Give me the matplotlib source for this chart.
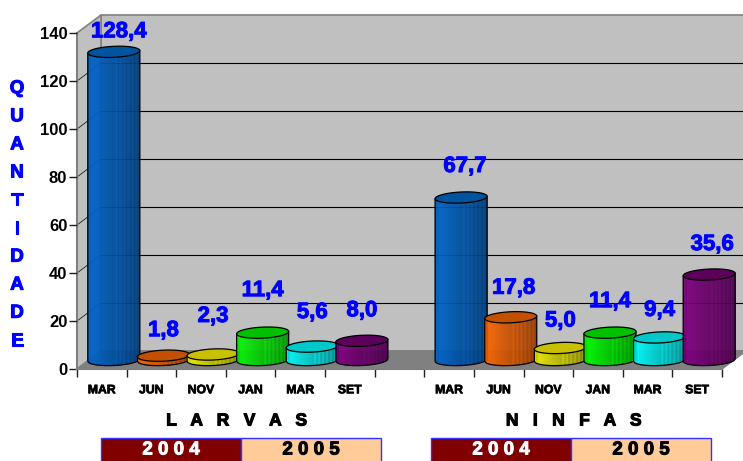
import numpy as np
from matplotlib import pyplot as plt
from matplotlib import patheffects as pe
from matplotlib.patches import Polygon, Rectangle

plt.rcParams['font.family'] = ['Liberation Sans', 'DejaVu Sans']
plt.rcParams['font.weight'] = 'bold'

# dados
categorias = ['MAR', 'JUN', 'NOV', 'JAN', 'MAR', 'SET', '', 'MAR', 'JUN', 'NOV', 'JAN', 'MAR', 'SET']
larvas = [128.4, 1.8, 2.3, 11.4, 5.6, 8.0]
ninfas = [67.7, 17.8, 5.0, 11.4, 9.4, 35.6]
rotulos_larvas = ['128,4', '1,8', '2,3', '11,4', '5,6', '8,0']
rotulos_ninfas = ['67,7', '17,8', '5,0', '11,4', '9,4', '35,6']
y_ticks = [0, 20, 40, 60, 80, 100, 120, 140]

# deslocamento dos rotulos em pixels (dx, dy) a partir do topo da barra
desloc_larvas = [(5, 20), (0, 25), (0, 38), (0, 42), (0, 34), (0, 30)]
desloc_ninfas = [(4, 31), (3, 29), (0, 27), (0, 31), (0, 27), (3, 30)]

cores = [(0, 102, 204), (255, 102, 0), (240, 240, 0), (0, 255, 0), (0, 255, 255), (128, 0, 128)]
cores_topo = ['#00539F', '#C25000', '#C8C000', '#00C000', '#00C8C8', '#5C005C']


def negrito(cor, w=0.5):
    # engrossa o texto para lembrar o Arial Black
    return [pe.withStroke(linewidth=w, foreground=cor)]


W, H = 743, 461
fig = plt.figure(figsize=(W / 100, H / 100), dpi=100)
ax = fig.add_axes([77 / W, (H - 369) / H, 645 / W, 336 / H])
ax.set_xlim(0, 13)
ax.set_ylim(0, 140)
ax.patch.set_visible(False)

# profundidade do grafico 3D em unidades dos eixos
DX = 24 / 49.6
DY = 18 / 2.4

# paredes e piso
ax.add_patch(Polygon([(DX, DY), (13 + DX, DY), (13 + DX, 140 + DY), (DX, 140 + DY)],
                     fc='#C0C0C0', ec='#808080', lw=1.2, clip_on=False, zorder=0))
ax.add_patch(Polygon([(0, 0), (DX, DY), (DX, 140 + DY), (0, 140)],
                     fc='#C0C0C0', ec='#808080', lw=1.2, clip_on=False, zorder=0))
ax.add_patch(Polygon([(0, 0), (13, 0), (13 + DX, DY), (DX, DY)],
                     fc='#808080', ec='#808080', lw=1, clip_on=False, zorder=0.5))

for v in y_ticks[1:-1]:
    ax.plot([DX, 13 + DX], [v + DY, v + DY], color='black', lw=0.8, clip_on=False, zorder=1)
    ax.plot([0, DX], [v, v + DY], color='#202020', lw=0.6, clip_on=False, zorder=1)


def cilindro(pos, valor, rgb, topo, z):
    hw = 26 / 49.6
    b = 2.3
    sk = 0.5
    cx = pos + 0.5 + DX / 2
    base = DY / 2
    n = 26
    bordas = np.linspace(-1, 1, n + 1)
    curva = lambda t: -b * np.sqrt(np.clip(1 - t ** 2, 0, 1)) + sk * t
    for j in range(n):
        t = np.linspace(bordas[j], bordas[j + 1], 4)
        s = 1.0 - 0.45 * (j / (n - 1))
        if j > n / 2 and j % 2 == 0:
            s += 0.1
        if j < 2:
            s -= 0.08
        c = tuple(min(1, v / 255 * s) for v in rgb)
        xs = cx + hw * t
        ys = base + curva(t)
        ax.fill(np.r_[xs, xs[::-1]], np.r_[ys, ys[::-1] + valor], color=c, lw=0.3,
                alpha=0.94, clip_on=False, zorder=z)
    t = np.linspace(-1, 1, 60)
    ax.plot(np.r_[-1, t, 1] * hw + cx,
            np.r_[base + sk * -1 + valor, base + curva(t), base + sk + valor],
            color='black', lw=0.9, clip_on=False, zorder=z + 0.1)
    th = np.linspace(0, 2 * np.pi, 90)
    ax.fill(cx + hw * np.cos(th), base + valor + b * np.sin(th) + sk * np.cos(th),
            fc=topo, ec='black', lw=0.9, clip_on=False, zorder=z + 0.2)


valores = larvas + [None] + ninfas
rotulos = rotulos_larvas + [''] + rotulos_ninfas
desloc = desloc_larvas + [(0, 0)] + desloc_ninfas
for i, v in enumerate(valores):
    if v is None:
        continue
    cilindro(i, v, cores[i % 7], cores_topo[i % 7], 2 + i)
    ax.annotate(rotulos[i], (i + 0.5 + DX / 2, v + DY / 2), xytext=desloc[i], textcoords='offset pixels',
                ha='center', va='center', color='#0000FF', fontsize=16, fontweight='bold',
                path_effects=negrito('#0000FF', 0.7), annotation_clip=False, zorder=30)

# eixos
for lado in ['top', 'right']:
    ax.spines[lado].set_visible(False)
ax.spines['left'].set_color('#808080')
ax.spines['left'].set_linewidth(1.5)
ax.spines['bottom'].set_color('#808080')
ax.spines['bottom'].set_linewidth(1.5)
ax.spines['left'].set_zorder(1.5)
ax.set_yticks(y_ticks)
ax.set_yticklabels([str(v) for v in y_ticks], fontsize=12, fontweight='bold')
ax.tick_params(axis='y', length=6, width=1, color='#202020', pad=1)
ax.set_xticks(np.arange(0, 14))
ax.set_xticklabels([])
ax.tick_params(axis='x', which='major', length=6, width=1, color='#202020')
ax.set_xticks(np.arange(13) + 0.5, minor=True)
ax.set_xticklabels(categorias, minor=True, fontsize=8.8, fontweight='bold',
                   path_effects=negrito('black', 0.5))
ax.tick_params(axis='x', which='minor', length=0, pad=11)

# camada em pixels para titulos e caixas de ano
over = fig.add_axes([0, 0, 1, 1])
over.set_xlim(0, W)
over.set_ylim(H, 0)
over.axis('off')
over.patch.set_visible(False)

over.text(17, 215, '\n'.join('QUANTIDADE'), color='#0000FF', fontsize=13.5, fontweight='bold',
          ha='center', va='center', multialignment='center', linespacing=1.85,
          path_effects=negrito('#0000FF', 0.8))
over.text(237, 421, 'L   A   R   V   A   S', color='black', fontsize=12.5, fontweight='bold', ha='center',
          va='center', path_effects=negrito('black', 0.8))
over.text(574, 421, 'N   I   N   F   A   S', color='black', fontsize=12.5, fontweight='bold', ha='center',
          va='center', path_effects=negrito('black', 0.8))

for x0 in [101, 431]:
    over.add_patch(Rectangle((x0, 437.5), 140, 30, fc='#800000', ec='#3333FF', lw=1))
    over.add_patch(Rectangle((x0 + 140, 437.5), 140, 30, fc='#FFCC99', ec='#3333FF', lw=1))
    over.text(x0 + 70, 450, '2 0 0 4', color='white', fontsize=13.5, fontweight='bold', ha='center',
              va='center', path_effects=negrito('white', 0.7))
    over.text(x0 + 210, 450, '2 0 0 5', color='black', fontsize=13.5, fontweight='bold', ha='center',
              va='center', path_effects=negrito('black', 0.7))

plt.savefig('out.png', dpi=100)
